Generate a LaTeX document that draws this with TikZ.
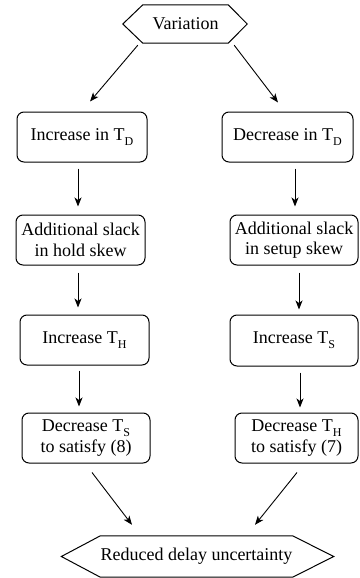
\documentclass[tikz,border=0pt]{standalone}
\usepackage{fontspec}
\setmainfont{Liberation Serif}
\usetikzlibrary{calc,arrows.meta}
\newcommand\lsub[1]{\raisebox{-5pt}{\fontsize{12}{12}\selectfont #1}}
\begin{document}
\begin{tikzpicture}[x=1pt,y=-1pt,
  every node/.style={font=\rmfamily\fontsize{18}{20.5}\selectfont, inner sep=0pt},
  stepbox/.style={draw, line width=1pt, rounded corners=7pt, align=center,
                  minimum height=50pt},
  hexlabel/.style={minimum height=#1},
  hexline/.style={line width=1pt, line join=miter},
  arr/.style={line width=0.9pt, -{Stealth[length=9pt,width=7pt,inset=2.5pt]}}
]
\useasboundingbox (0,0) rectangle (359,578);

% top and bottom terminals
\node[hexlabel=38pt, minimum width=85pt] (var) at (185.5,24) {Variation};
\draw[hexline] (var.north west) -- (var.north east) -- ($(var.east)+(19,0)$)
  -- (var.south east) -- (var.south west) -- ($(var.west)+(-20,0)$) -- cycle;

\node[hexlabel=41pt, minimum width=175pt] (red) at (196.5,556.5) {Reduced delay uncertainty};
\draw[hexline] (red.north west) -- (red.north east) -- ($(red.east)+(41,0)$)
  -- (red.south east) -- (red.south west) -- ($(red.west)+(-39,0)$) -- cycle;

% left branch
\node[stepbox, minimum width=130pt] (inTD)  at (82,137)   {Increase in T\lsub{D}};
\node[stepbox, minimum width=129pt] (hold)  at (80.5,240) {Additional slack\\in hold skew};
\node[stepbox, minimum width=129pt] (incTH) at (84.5,340) {Increase T\lsub{H}};
\node[stepbox, minimum width=128pt] (decTS) at (86,438)   {Decrease T\lsub{S}\\to satisfy (8)};

% right branch
\node[stepbox, minimum width=131pt] (decTD) at (287.5,137) {Decrease in T\lsub{D}};
\node[stepbox, minimum width=128pt] (setup) at (294,240)   {Additional slack\\in setup skew};
\node[stepbox, minimum width=128pt, minimum height=51pt] (incTS) at (294,340.5) {Increase T\lsub{S}};
\node[stepbox, minimum width=123pt] (decTH) at (296.5,438) {Decrease T\lsub{H}\\to satisfy (7)};

% connectors
\draw[arr] ($(var.south west)+(-5,2)$) -- ($(inTD.north)+(8,-10)$);
\draw[arr] ($(var.south east)+(6,2)$) -- ($(decTD.north)+(-9.5,-9)$);

\draw[arr] ($(inTD.south)+(-4,6)$)    -- ($(hold.north)+(-2.5,-8)$);
\draw[arr] ($(hold.south)+(-2.5,7)$)  -- ($(incTH.north)+(-6.5,-7)$);
\draw[arr] ($(incTH.south)+(-5.5,5)$) -- ($(decTS.north)+(-7,-6)$);

\draw[arr] ($(decTD.south)+(7.5,6)$)  -- ($(setup.north)+(1,-8)$);
\draw[arr] ($(setup.south)+(5,7)$)    -- ($(incTS.north)+(5,-5)$);
\draw[arr] ($(incTS.south)+(6,6)$)    -- ($(decTH.north)+(3.5,-5)$);

\draw[arr] ($(decTS.south)+(6,9)$)    -- ($(red.north)+(-64.5,-11)$);
\draw[arr] ($(decTH.south)+(0.5,9)$)  -- ($(red.north)+(58.5,-11)$);
\end{tikzpicture}
\end{document}
